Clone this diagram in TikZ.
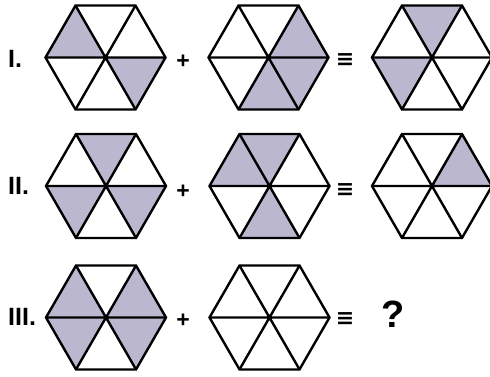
\documentclass[tikz,border=0pt]{standalone}
\usepackage{fontspec}
\setmainfont{Liberation Sans}
\newfontfamily\symfont{DejaVu Sans}
\definecolor{shadecol}{RGB}{186,183,206}
\tikzset{
  hexline/.style={line width=2.4pt, line join=miter, black},
  shadetri/.style={fill=shadecol},
  rowlabel/.style={font=\bfseries\fontsize{25}{25}\selectfont, anchor=west, inner sep=0pt},
  opsign/.style={font=\bfseries\fontsize{23}{23}\selectfont, inner sep=0pt},
  eqsign/.style={font=\symfont\bfseries\fontsize{22}{22}\selectfont, inner sep=0pt},
  qmark/.style={font=\bfseries\fontsize{38}{38}\selectfont, inner sep=0pt}
}
\newcommand{\myhex}[4]{% name, x, y, shaded start angles
  \coordinate (#1) at (#2,#3);
  \begin{scope}[shift={(#1)}]
    \foreach \a in {#4}{\fill[shadetri] (0,0) -- (\a:60) -- (\a+60:60) -- cycle;}
    \draw[hexline] (0:60) -- (60:60) -- (120:60) -- (180:60) -- (240:60) -- (300:60) -- cycle;
    \draw[hexline] (0:60) -- (180:60) (60:60) -- (240:60) (120:60) -- (300:60);
  \end{scope}
}
\begin{document}
\begin{tikzpicture}[x=1pt,y=1pt]
\useasboundingbox (0,0) rectangle (490,376);
\fill[white] (0,0) rectangle (490,376);
\clip (0,0) rectangle (490,376);
% Row I
\myhex{h11}{105.5}{318.5}{120,300}
\myhex{h12}{268.5}{318.5}{0,300,240}
\myhex{h13}{432}{318.5}{60,180}
% Row II
\myhex{h21}{106}{190}{60,180,300}
\myhex{h22}{269.5}{190}{60,120,240}
\myhex{h23}{432}{190}{0}
% Row III
\myhex{h31}{106}{58.5}{0,120,180,300}
\myhex{h32}{269.5}{58.5}{}
% labels
\node[rowlabel] (l1) at (8,317) {I.};
\node[rowlabel] (l2) at (8,190) {II.};
\node[rowlabel] (l3) at (8,59) {III.};
\node[opsign] (p1) at (183,314) {+};
\node[opsign] (p2) at (183,184.5) {+};
\node[opsign] (p3) at (183,55) {+};
\node[eqsign] (e1) at (345,316) {≡};
\node[eqsign] (e2) at (345,186) {≡};
\node[eqsign] (e3) at (345,57) {≡};
\node[qmark] (q) at (393,62) {?};
\end{tikzpicture}
\end{document}
